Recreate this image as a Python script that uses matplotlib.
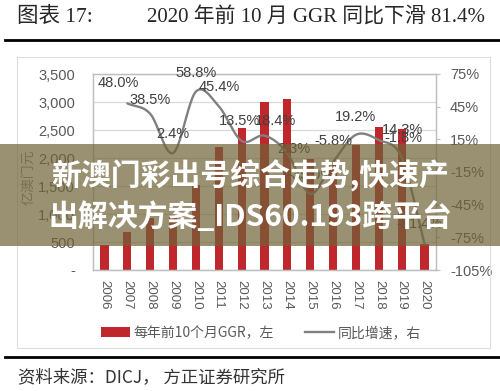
import numpy as np
import matplotlib
matplotlib.use('Agg')
import matplotlib.pyplot as plt
from matplotlib.patches import Patch, Rectangle
from matplotlib.lines import Line2D
from matplotlib.ticker import FuncFormatter, MultipleLocator

# 数据
YEARS = ['2006', '2007', '2008', '2009', '2010', '2011', '2012', '2013',
         '2014', '2015', '2016', '2017', '2018', '2019', '2020']
GGR = [455, 673, 932, 954, 1515, 2203, 2530, 3000, 3060, 1990, 1876,
       2236, 2556, 2510, 467]                      # 亿澳门元，左轴
GROWTH = [None, 48.0, 38.5, 2.4, 58.8, 45.4, 13.5, 18.4, 2.3, -35.0, -5.8,
          19.2, 14.3, -1.8, -81.4]                 # 同比增速 %，右轴

TITLE_NO = '图表 17:'
TITLE = '2020 年前 10 月 GGR 同比下滑 81.4%'
SOURCE = '资料来源：DICJ， 方正证券研究所'
LEGEND_LABELS = ['每年前10个月GGR，左', '同比增速，右']
Y_LABEL = '亿澳门元'
BANNER = ['新澳门彩出号综合走势,快速产', '出解决方案_IDS60.193跨平台']

# 数据标签相对数据点的偏移（像素）
LABEL_OFFSETS = {1: (-9, 20), 2: (0, 14), 3: (0, 19), 4: (0, 19), 5: (0, 19),
                 6: (-2, 20), 7: (11, 15), 8: (6, 4), 9: (0, 19), 10: (0, 21),
                 11: (0, 18), 12: (24, 10), 13: (2, 20), 14: (-5, 20)}

RED = '#C0272D'
GREY_LINE = '#808080'
TXT = '#595959'
W, H = 500, 391

CJK = ['Noto Sans CJK SC', 'DejaVu Sans']
SANS = ['Liberation Sans', 'DejaVu Sans']
SERIF = ['Liberation Serif', 'Noto Sans CJK SC']


def fx(px):
    return px / W


def fy(py):
    return 1 - py / H


def smooth(xs, ys, n=24):
    """Catmull-Rom 平滑（和 Excel 平滑线类似）。"""
    pts = np.column_stack([xs, ys]).astype(float)
    P = np.vstack([2 * pts[0] - pts[1], pts, 2 * pts[-1] - pts[-2]])
    t = np.linspace(0, 1, n, endpoint=False)[:, None]
    segs = []
    for i in range(1, len(P) - 2):
        p0, p1, p2, p3 = P[i - 1], P[i], P[i + 1], P[i + 2]
        segs.append(0.5 * (2 * p1 + (p2 - p0) * t
                           + (2 * p0 - 5 * p1 + 4 * p2 - p3) * t ** 2
                           + (-p0 + 3 * p1 - 3 * p2 + p3) * t ** 3))
    segs.append(pts[-1:])
    out = np.vstack(segs)
    return out[:, 0], out[:, 1]


fig = plt.figure(figsize=(W / 100, H / 100), dpi=100)
fig.patch.set_facecolor('white')

# 外框
fig.add_artist(Rectangle((fx(17), fy(348)), fx(490) - fx(17), fy(57) - fy(348),
                         transform=fig.transFigure, fill=False,
                         edgecolor='#dcdcdc', linewidth=0.8))

ax = fig.add_axes([fx(93), fy(270), fx(436) - fx(93), fy(74) - fy(270)])
x = np.arange(len(YEARS))
ax.bar(x, GGR, width=0.36, color=RED, zorder=2)
ax.set_xlim(-0.5, len(YEARS) - 0.5)
ax.set_ylim(0, 3500)
ax.yaxis.set_major_locator(MultipleLocator(500))
ax.yaxis.set_major_formatter(FuncFormatter(
    lambda v, _: '-' if v == 0 else f'{int(v):,}'))
ax.grid(axis='y', color='#d9d9d9', linewidth=0.9, zorder=0)
ax.set_axisbelow(True)
ax.set_xticks(x)
ax.set_xticklabels(YEARS, rotation=-90, va='top', ha='center')
ax.tick_params(axis='x', length=0, pad=7, labelsize=9.5, labelcolor=TXT)
ax.tick_params(axis='y', length=0, pad=13, labelsize=10.5, labelcolor=TXT)
for lab in ax.get_xticklabels() + ax.get_yticklabels():
    lab.set_family(SANS)
for sp in ax.spines.values():
    sp.set_color('#bfbfbf')
    sp.set_linewidth(0.9)

ax2 = ax.twinx()
ax2.set_ylim(-105, 75)
ax2.set_yticks(np.arange(-105, 76, 30))
ax2.yaxis.set_major_formatter(FuncFormatter(lambda v, _: f'{int(v)}%'))
ax2.tick_params(axis='y', length=3, width=0.8, color='#bfbfbf', pad=7,
                labelsize=10.5, labelcolor=TXT)
for lab in ax2.get_yticklabels():
    lab.set_family(SANS)
for sp in ax2.spines.values():
    sp.set_color('#bfbfbf')
    sp.set_linewidth(0.9)

gx = [i for i, g in enumerate(GROWTH) if g is not None]
gy = [g for g in GROWTH if g is not None]
sx, sy = smooth(gx, gy)
ax2.plot(sx, sy, color=GREY_LINE, linewidth=1.7, zorder=3,
         solid_capstyle='round')

for i, g in zip(gx, gy):
    dx, dy = LABEL_OFFSETS.get(i, (0, 19))
    ax2.annotate(f'{g:.1f}%', (i, g), xytext=(dx * 0.72, dy * 0.72),
                 textcoords='offset points', ha='center', va='center',
                 fontsize=10.5, color='#404040', family=SANS, zorder=4)

# 纵轴标题
fig.text(fx(28), fy(177), Y_LABEL, rotation=90, ha='center', va='center',
         fontsize=10, color='#8c8c8c', family=CJK)

# 图例
handles = [Patch(facecolor=RED, edgecolor='none'),
           Line2D([], [], color=GREY_LINE, linewidth=1.7)]
fig.legend(handles, LEGEND_LABELS, loc='center', ncol=2, frameon=False,
           bbox_to_anchor=(fx(261), fy(333)), handlelength=2.1,
           handletextpad=0.3, columnspacing=2.2,
           prop={'family': CJK, 'size': 10}, labelcolor=TXT)

# 标题与上下分隔线
fig.text(fx(17), fy(17), TITLE_NO, ha='left', va='center', fontsize=15.5,
         family=SERIF, color='#262626')
fig.text(fx(147), fy(17), TITLE, ha='left', va='center', fontsize=15,
         family=SERIF, color='#262626')
fig.add_artist(Line2D([fx(5), 1], [fy(40), fy(40)], color='black',
                      linewidth=2.0))
fig.add_artist(Line2D([fx(5), 1], [fy(357), fy(357)], color='black',
                      linewidth=2.0))
fig.text(fx(18), fy(377), SOURCE, ha='left', va='center', fontsize=12.5,
         family=CJK, color='#333333')

# 覆盖横幅
fig.add_artist(Rectangle((0, fy(246)), 1, fy(144) - fy(246),
                         transform=fig.transFigure,
                         facecolor=(112 / 255, 98 / 255, 55 / 255),
                         alpha=0.7, edgecolor='none', zorder=10))
fig.text(0.5, fy(176), BANNER[0], ha='center', va='center', fontsize=21.5,
         fontweight='bold', color='white', family=CJK, zorder=11)
fig.text(0.5, fy(217), BANNER[1], ha='center', va='center', fontsize=21.5,
         fontweight='bold', color='white', family=CJK, zorder=11)

fig.savefig('out.png', dpi=100)
